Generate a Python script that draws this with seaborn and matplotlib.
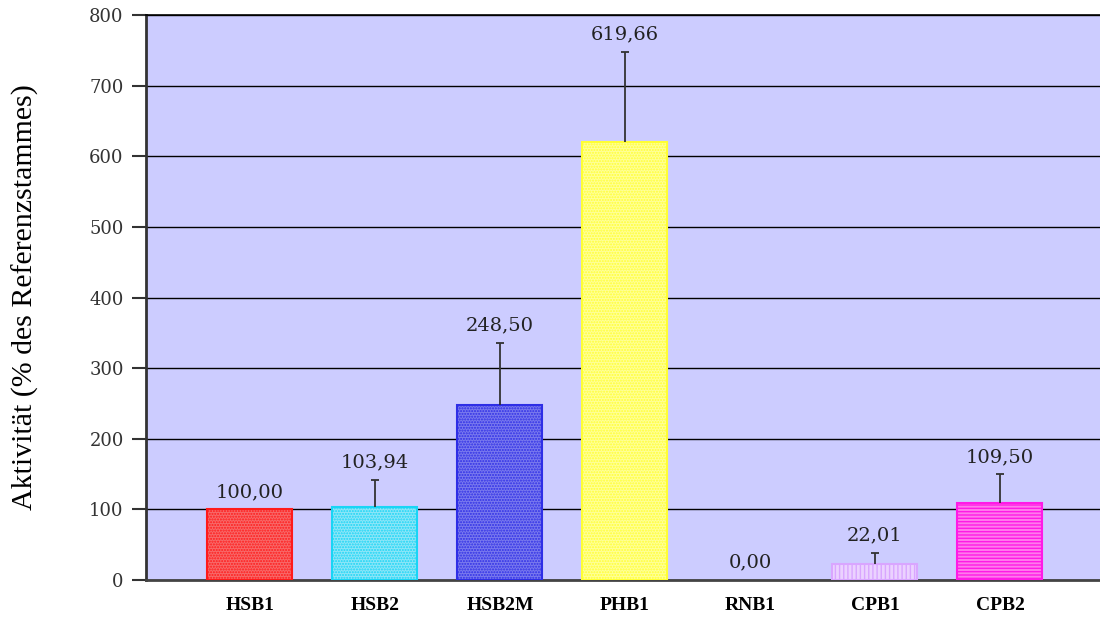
import matplotlib
matplotlib.use("Agg")
import matplotlib.pyplot as plt
import seaborn as sns
import pandas as pd

# Enzyme activity of the strains relative to the reference strain
strains = ["HSB1", "HSB2", "HSB2M", "PHB1", "RNB1", "CPB1", "CPB2"]
activity = [100.00, 103.94, 248.50, 619.66, 0.00, 22.01, 109.50]
error_up = [0.0, 38.0, 87.0, 128.0, 0.0, 16.0, 40.0]
value_labels = ["100,00", "103,94", "248,50", "619,66", "0,00", "22,01", "109,50"]
y_ticks = [0, 100, 200, 300, 400, 500, 600, 700, 800]

edge_colors = ["#FF1A1A", "#19D5F5", "#2E2EE6", "#FFFF33", "#AAAAAA", "#D9A6FF", "#FF1AE6"]
face_colors = ["#F76A6A", "#8FE6F8", "#7A7AEE", "#FFFF99", "#DDDDDD", "#EBD2FF", "#FF7AEC"]
hatches = ["......", "......", "......", "......", "", "||||", "-----"]

sns.set_theme(style="white")
plt.rcParams["hatch.linewidth"] = 1.0

df = pd.DataFrame({"strain": strains, "activity": activity})

fig = plt.figure(figsize=(11, 6.22), dpi=100)
ax = fig.add_axes([0.1327, 0.0675, 0.8673, 0.9084])
ax.set_facecolor("#CCCCFF")

sns.barplot(data=df, x="strain", y="activity", hue="strain", palette=face_colors,
            legend=False, width=0.68, errorbar=None, ax=ax, zorder=3)

for patch, fc, ec, h, v in zip(ax.patches, face_colors, edge_colors, hatches, activity):
    patch.set_facecolor(fc)
    patch.set_edgecolor(ec)
    patch.set_linewidth(1.5 if v > 0 else 0)
    patch.set_hatch(h)

# one-sided (upper) error bars
xs = [i for i, e in enumerate(error_up) if e > 0]
ys = [activity[i] for i in xs]
es = [error_up[i] for i in xs]
_, caps, _ = ax.errorbar(xs, ys, yerr=[[0] * len(xs), es], fmt="none",
                         ecolor="#333333", elinewidth=1.3, capsize=3.2,
                         capthick=1.3, zorder=4)
caps[0].set_visible(False)

for x, (v, e, lab) in enumerate(zip(activity, error_up, value_labels)):
    ax.annotate(lab, (x, v + e), xytext=(0, 6), textcoords="offset points",
                ha="center", va="bottom", fontsize=14, family="DejaVu Serif",
                color="#222222", zorder=5)

ax.set_ylim(0, 800)
ax.set_xlim(-0.832, 6.8)
ax.set_yticks(y_ticks)
ax.set_yticklabels([str(t) for t in y_ticks], family="DejaVu Serif", fontsize=13,
                   color="#333333")
ax.yaxis.grid(True, color="black", linewidth=1.0, zorder=1)
ax.set_axisbelow(True)
ax.tick_params(axis="y", left=True, length=10, width=1.5, color="#333333", pad=6)
ax.tick_params(axis="x", bottom=False, length=0, pad=12)
for lbl in ax.get_xticklabels():
    lbl.set_family("Liberation Serif")
    lbl.set_fontweight("bold")
    lbl.set_fontsize(14)
    lbl.set_color("black")

ax.set_xlabel("")
ax.set_ylabel("Aktivität (% des Referenzstammes)", family="Liberation Serif",
              fontsize=21.5, color="black")
ax.yaxis.set_label_coords(-0.112, 0.5)

ax.spines["right"].set_visible(False)
ax.spines["top"].set_color("black")
ax.spines["top"].set_linewidth(1.2)
ax.spines["left"].set_color("#333333")
ax.spines["left"].set_linewidth(2)
ax.spines["bottom"].set_color("#444444")
ax.spines["bottom"].set_linewidth(2)

fig.savefig("out.png", dpi=100)
